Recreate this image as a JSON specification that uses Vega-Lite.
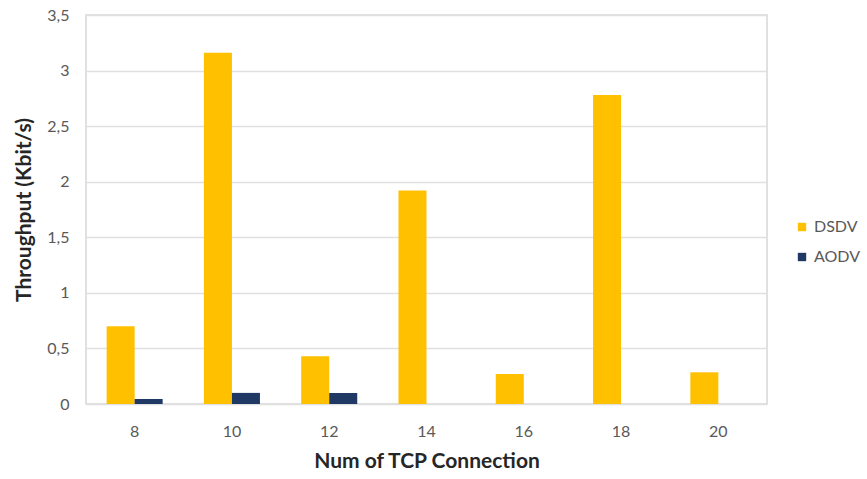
{
  "$schema": "https://vega.github.io/schema/vega-lite/v6.json",
  "autosize": "none",
  "padding": {"left": 86, "top": 15, "right": 100, "bottom": 75},
  "width": 681,
  "height": 389,
  "background": "white",
  "config": {
    "font": "Lato",
    "view": {"stroke": "#d6d6d6", "strokeWidth": 1.5},
    "axis": {
      "labelColor": "#595959",
      "labelFontSize": 16,
      "titleColor": "#262626",
      "titleFontSize": 21,
      "titleFontWeight": "bold",
      "domain": false,
      "ticks": false
    },
    "legend": {"labelColor": "#595959", "labelFontSize": 16}
  },
  "data": {
    "values": [
      {"conn": "8", "protocol": "DSDV", "throughput": 0.70},
      {"conn": "8", "protocol": "AODV", "throughput": 0.045},
      {"conn": "10", "protocol": "DSDV", "throughput": 3.16},
      {"conn": "10", "protocol": "AODV", "throughput": 0.10},
      {"conn": "12", "protocol": "DSDV", "throughput": 0.43},
      {"conn": "12", "protocol": "AODV", "throughput": 0.10},
      {"conn": "14", "protocol": "DSDV", "throughput": 1.92},
      {"conn": "14", "protocol": "AODV", "throughput": 0},
      {"conn": "16", "protocol": "DSDV", "throughput": 0.27},
      {"conn": "16", "protocol": "AODV", "throughput": 0},
      {"conn": "18", "protocol": "DSDV", "throughput": 2.78},
      {"conn": "18", "protocol": "AODV", "throughput": 0},
      {"conn": "20", "protocol": "DSDV", "throughput": 0.285},
      {"conn": "20", "protocol": "AODV", "throughput": 0}
    ]
  },
  "mark": {"type": "bar"},
  "encoding": {
    "x": {
      "field": "conn",
      "type": "ordinal",
      "sort": ["8", "10", "12", "14", "16", "18", "20"],
      "scale": {"paddingInner": 0.424, "paddingOuter": 0.212},
      "axis": {
        "title": "Num of TCP Connection",
        "labelAngle": 0,
        "labelPadding": 19,
        "titlePadding": 11,
        "grid": false
      }
    },
    "xOffset": {
      "field": "protocol",
      "type": "nominal",
      "sort": ["DSDV", "AODV"],
      "scale": {"paddingInner": 0, "paddingOuter": 0}
    },
    "y": {
      "field": "throughput",
      "type": "quantitative",
      "scale": {"domain": [0, 3.5], "nice": false},
      "axis": {
        "title": "Throughput (Kbit/s)",
        "values": [0, 0.5, 1, 1.5, 2, 2.5, 3, 3.5],
        "labelExpr": "replace(toString(datum.value), '.', ',')",
        "labelPadding": 17,
        "titlePadding": 12,
        "grid": true,
        "gridColor": "#e0e0e0",
        "gridWidth": 1.5
      }
    },
    "color": {
      "field": "protocol",
      "type": "nominal",
      "sort": ["DSDV", "AODV"],
      "scale": {"domain": ["DSDV", "AODV"], "range": ["#FFC000", "#1F3864"]},
      "legend": {
        "title": null,
        "orient": "none",
        "legendX": 708,
        "legendY": 204,
        "symbolType": "square",
        "symbolSize": 70,
        "symbolStrokeWidth": 0,
        "rowPadding": 14,
        "labelOffset": 4
      }
    }
  }
}
